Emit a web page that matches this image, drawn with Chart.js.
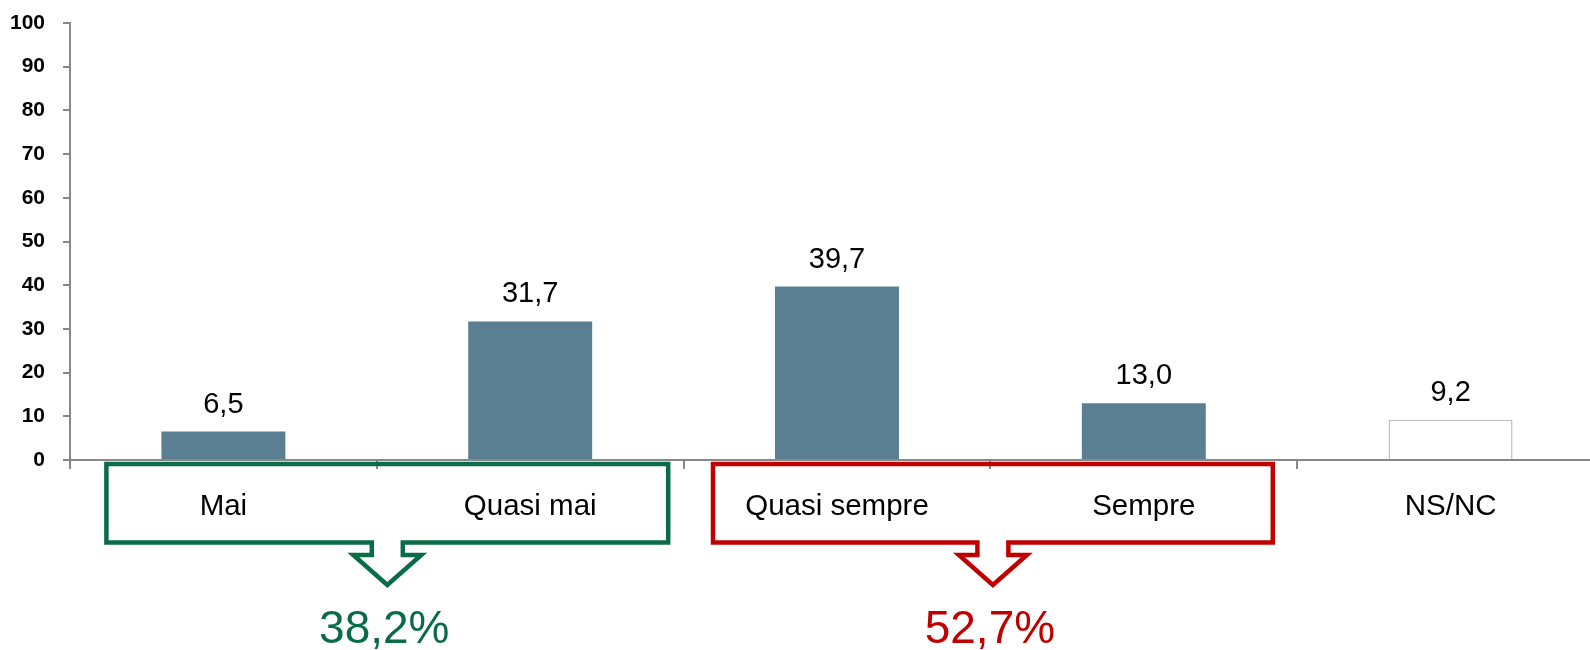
<!DOCTYPE html>
<html>
<head>
<meta charset="utf-8">
<script src="https://cdn.jsdelivr.net/npm/chart.js@4"></script>
<style>
  body { margin: 0; background: #fff; overflow: hidden; }
  #wrap { width: 1590px; height: 650px; overflow: hidden; }
</style>
</head>
<body>
<div id="wrap"><canvas id="chart" width="1620" height="650"></canvas></div>
<script>
// dati del grafico
const categories = ["Mai", "Quasi mai", "Quasi sempre", "Sempre", "NS/NC"];
const values = [6.5, 31.7, 39.7, 13.0, 9.2];
const yTicks = [0, 10, 20, 30, 40, 50, 60, 70, 80, 90, 100];

// raggruppamenti (indici delle categorie) e colori dei riquadri
const groupFrom = [0, 2];
const groupTo = [1, 3];
const groupColors = ["#0a6b47", "#c00000"];

const fmt = v => v.toFixed(1).replace(".", ",");

// etichette sopra le barre
const valueLabels = {
  id: "valueLabels",
  afterDatasetsDraw(chart) {
    const ctx = chart.ctx;
    const meta = chart.getDatasetMeta(0);
    ctx.save();
    ctx.font = "29px 'Liberation Sans', Arial, sans-serif";
    ctx.fillStyle = "#000";
    ctx.textAlign = "center";
    ctx.textBaseline = "alphabetic";
    meta.data.forEach((bar, i) => {
      ctx.fillText(fmt(values[i]), bar.x, bar.y - 19);
    });
    ctx.restore();
  }
};

// riquadri con freccia sotto le categorie
const groupBoxes = {
  id: "groupBoxes",
  afterDraw(chart) {
    const ctx = chart.ctx;
    const xs = chart.scales.x;
    const base = chart.chartArea.bottom;
    const offL = [117, 124];
    const offR = [138, 129];
    ctx.save();
    groupFrom.forEach((from, g) => {
      const to = groupTo[g];
      const left = xs.getPixelForValue(from) - offL[g];
      const right = xs.getPixelForValue(to) + offR[g];
      const cx = (left + right) / 2;
      const top = base + 4;
      const bot = base + 82.5;
      const shaftY = base + 95;
      const tipY = base + 125;
      ctx.beginPath();
      ctx.moveTo(left, top);
      ctx.lineTo(right, top);
      ctx.lineTo(right, bot);
      ctx.lineTo(cx + 15.5, bot);
      ctx.lineTo(cx + 15.5, shaftY);
      ctx.lineTo(cx + 34, shaftY);
      ctx.lineTo(cx, tipY);
      ctx.lineTo(cx - 34, shaftY);
      ctx.lineTo(cx - 15.5, shaftY);
      ctx.lineTo(cx - 15.5, bot);
      ctx.lineTo(left, bot);
      ctx.closePath();
      ctx.lineWidth = 4.5;
      ctx.lineJoin = "miter";
      ctx.strokeStyle = groupColors[g];
      ctx.stroke();

      let total = 0;
      for (let i = from; i <= to; i++) total += values[i];
      ctx.font = "46px 'Liberation Sans', Arial, sans-serif";
      ctx.fillStyle = groupColors[g];
      ctx.textAlign = "center";
      ctx.textBaseline = "middle";
      ctx.fillText(fmt(total) + "%", cx - 3, base + 170);
    });
    ctx.restore();
  }
};

new Chart(document.getElementById("chart"), {
  type: "bar",
  data: {
    labels: categories,
    datasets: [{
      data: values,
      backgroundColor: ["#5b7f92", "#5b7f92", "#5b7f92", "#5b7f92", "#ffffff"],
      borderColor: ["#5b7f92", "#5b7f92", "#5b7f92", "#5b7f92", "#bfbfbf"],
      borderWidth: [0, 0, 0, 0, 1.5],
      barPercentage: 0.404,
      categoryPercentage: 1
    }]
  },
  options: {
    responsive: false,
    animation: false,
    layout: { padding: { left: 0, right: 16, top: 23, bottom: 0 } },
    plugins: {
      legend: { display: false },
      tooltip: { enabled: false }
    },
    scales: {
      x: {
        grid: { drawOnChartArea: false, offset: true, tickLength: 9, color: "#888", lineWidth: 2 },
        border: { color: "#888", width: 2 },
        ticks: {
          color: "#000",
          padding: 20,
          font: { family: "'Liberation Sans', Arial, sans-serif", size: 29.5 }
        },
        afterFit: s => { s.height = 190; }
      },
      y: {
        min: 0,
        max: 100,
        afterBuildTicks: s => { s.ticks = yTicks.map(v => ({ value: v })); },
        grid: { drawOnChartArea: false, tickLength: 7, color: "#888", lineWidth: 2 },
        border: { color: "#888", width: 2 },
        ticks: {
          color: "#000",
          padding: 18,
          font: { family: "'Liberation Sans', Arial, sans-serif", size: 21, weight: "bold", lineHeight: 1 }
        },
        afterFit: s => {
          s.width = 70;
          s.paddingTop = 0;
          s.paddingBottom = 0;
        }
      }
    }
  },
  plugins: [valueLabels, groupBoxes]
});
</script>
</body>
</html>
